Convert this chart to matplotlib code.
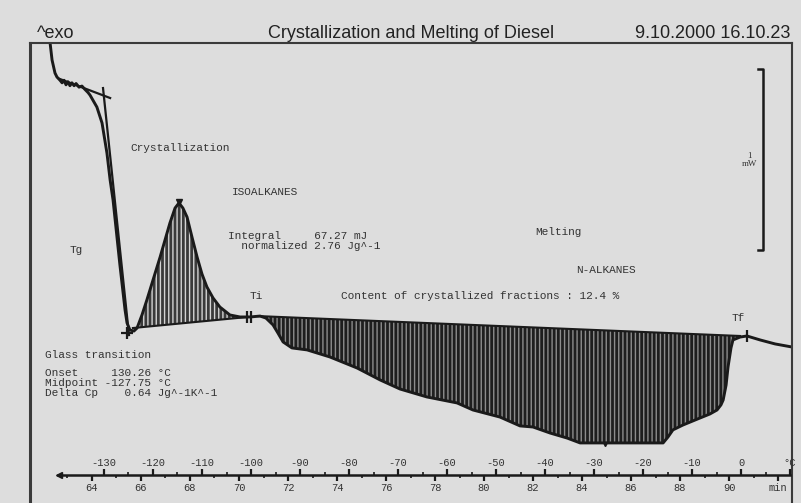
import numpy as np
import matplotlib
matplotlib.use("Agg")
from matplotlib import pyplot as plt

# DSC curve: time (min) vs heat flow (mW, relative)
time_min = [62.29, 62.37, 62.49, 62.57, 62.69, 62.78, 62.86, 62.94, 63.02, 63.10,
            63.18, 63.27, 63.35, 63.47, 63.59, 63.71, 63.84, 63.92, 64.20, 64.41,
            64.61, 64.74, 64.86, 65.14, 65.35, 65.43, 65.55, 65.71, 65.84, 66.04,
            66.24, 66.49, 66.78, 66.98, 67.18, 67.39, 67.55, 67.71, 67.88, 68.08,
            68.29, 68.49, 68.69, 68.94, 69.22, 69.63, 70.04, 70.45, 70.86, 71.10,
            71.39, 71.59, 71.80, 72.16, 72.78, 73.71, 74.82, 75.76, 76.57, 77.67,
            78.90, 79.55, 80.65, 81.47, 82.00, 82.69, 83.39, 83.92, 84.73, 85.96,
            87.31, 87.51, 87.71, 88.12, 88.82, 89.22, 89.51, 89.67, 89.76, 89.88,
            89.96, 90.08, 90.16, 90.45, 90.73, 91.27, 91.88, 92.57]
heat_flow_mw = [1.586, 1.492, 1.420, 1.398, 1.381, 1.366, 1.380, 1.355, 1.372, 1.350,
                1.366, 1.350, 1.362, 1.342, 1.348, 1.330, 1.312, 1.298, 1.232, 1.144,
                0.978, 0.829, 0.718, 0.359, 0.110, 0.039, 0.000, -0.006, 0.011, 0.083,
                0.166, 0.276, 0.403, 0.497, 0.591, 0.674, 0.702, 0.674, 0.624, 0.514,
                0.403, 0.309, 0.238, 0.177, 0.127, 0.083, 0.072, 0.072, 0.077, 0.066,
                0.028, -0.017, -0.066, -0.099, -0.110, -0.149, -0.210, -0.276, -0.326, -0.370,
                -0.403, -0.442, -0.481, -0.530, -0.536, -0.569, -0.597, -0.624, -0.624, -0.624,
                -0.624, -0.591, -0.552, -0.525, -0.486, -0.464, -0.442, -0.414, -0.387, -0.304,
                -0.204, -0.099, -0.055, -0.039, -0.033, -0.055, -0.077, -0.094]

# integration baselines (start / end)
cryst_base_t = [65.67, 70.37]
cryst_base_hf = [0.011, 0.072]
melt_base_t = [70.78, 90.45]
melt_base_hf = [0.077, -0.033]

# glass transition tangents
tan1_t = [62.69, 64.74]
tan1_hf = [1.387, 1.282]
tan2_t = [64.45, 65.51]
tan2_hf = [1.337, -0.028]

# axis ticks
min_ticks = [64, 66, 68, 70, 72, 74, 76, 78, 80, 82, 84, 86, 88, 90, 92]
min_labels = ["64", "66", "68", "70", "72", "74", "76", "78", "80", "82",
              "84", "86", "88", "90", "min"]
temp_ticks = [-130, -120, -110, -100, -90, -80, -70, -60, -50, -40, -30, -20, -10, 0, 10]
temp_labels = ["-130", "-120", "-110", "-100", "-90", "-80", "-70", "-60", "-50",
               "-40", "-30", "-20", "-10", "0", "°C"]

t0, T0, rate = 64.49, -130.0, 5.0   # 5 K/min


def t2T(t):
    return T0 + (np.asarray(t) - t0) * rate


def T2t(T):
    return t0 + (np.asarray(T) - T0) / rate


bg = "#dddddd"
ink = "#1a1a1a"
mono = dict(family="Liberation Mono", size=8, color="#333333")
xlim = (61.47, 92.57)

plt.rcParams["hatch.linewidth"] = 1.0
fig = plt.figure(figsize=(8.01, 5.03), dpi=100, facecolor=bg)

W, H = 801, 503
ax = fig.add_axes([30 / W, 0, 762 / W, 460 / H])
ax.set_facecolor(bg)
ax.set_xlim(*xlim)
ax.set_ylim(-0.956, 1.586)
ax.set_xticks([])
ax.set_yticks([])
for s in ["left", "top", "right"]:
    ax.spines[s].set_color("#3a3a3a")
    ax.spines[s].set_linewidth(1.5)
ax.spines["left"].set_linewidth(2.2)
ax.spines["bottom"].set_visible(False)

t = np.array(time_min)
hf = np.array(heat_flow_mw)

# hatched areas
m = (t >= cryst_base_t[0]) & (t <= cryst_base_t[1])
ax.fill_between(t[m], hf[m], np.interp(t[m], cryst_base_t, cryst_base_hf),
                facecolor="#3a3a3a", edgecolor="#d4d4d4", hatch="||||", linewidth=0)
m = (t >= melt_base_t[0]) & (t <= melt_base_t[1])
ax.fill_between(t[m], hf[m], np.interp(t[m], melt_base_t, melt_base_hf),
                facecolor="#1e1e1e", edgecolor="#8c8c8c", hatch="||||", linewidth=0)

ax.plot(t, hf, color=ink, lw=2.1, solid_joinstyle="round")
ax.plot(cryst_base_t, cryst_base_hf, color=ink, lw=1.5)
ax.plot(melt_base_t, melt_base_hf, color=ink, lw=1.5)
ax.plot(tan1_t, tan1_hf, color=ink, lw=1.6)
ax.plot(tan2_t, tan2_hf, color=ink, lw=1.6)

# markers
ax.plot([65.43], [-0.017], marker="+", ms=9, mew=1.6, color=ink)
ax.plot([70.31, 70.51], [0.072, 0.072], ls="none", marker="|", ms=8, mew=1.6, color=ink)
ax.plot([90.73], [-0.033], marker="|", ms=8, mew=1.6, color=ink)
ax.plot([67.55], [0.705], marker="v", ms=4, color=ink)
ax.plot([84.95], [-0.630], marker="v", ms=3, color=ink)

# 1 mW scale bar
bar_t, bar_lo, bar_hi = 91.39, 0.44, 1.44
ax.plot([bar_t - 0.2, bar_t, bar_t, bar_t - 0.2], [bar_hi, bar_hi, bar_lo, bar_lo],
        color=ink, lw=1.8)
ax.text(bar_t - 0.55, (bar_hi + bar_lo) / 2, "1\nmW", ha="center", va="center",
        multialignment="center", family="Liberation Serif", size=6.5, color="#333333",
        linespacing=1.0)

# annotations
ax.text(65.55, 1.006, "Crystallization", va="center", **mono)
ax.text(69.71, 0.762, "ISOALKANES", va="center", **mono)
ax.text(63.10, 0.442, "Tg", va="center", **mono)
ax.text(69.55, 0.49, "Integral     67.27 mJ\n  normalized 2.76 Jg^-1", va="center",
        linespacing=1.0, **mono)
ax.text(70.45, 0.188, "Ti", va="center", **mono)
ax.text(74.16, 0.188, "Content of crystallized fractions : 12.4 %", va="center", **mono)
ax.text(82.08, 0.541, "Melting", va="center", **mono)
ax.text(83.76, 0.331, "N-ALKANES", va="center", **mono)
ax.text(90.12, 0.066, "Tf", va="center", **mono)
ax.text(62.08, -0.138, "Glass transition", va="center", **mono)
ax.text(62.08, -0.292, "Onset     130.26 °C\nMidpoint -127.75 °C\nDelta Cp    0.64 Jg^-1K^-1",
        va="center", linespacing=1.0, **mono)

# time / temperature scale drawn inside the frame
ax2 = fig.add_axes([30 / W, 28 / H, 762 / W, 0.0001])
ax2.patch.set_visible(False)
ax2.set_xlim(*xlim)
ax2.set_yticks([])
for s in ["left", "top", "right"]:
    ax2.spines[s].set_visible(False)
ax2.spines["bottom"].set_bounds(62.61, 92.49)
ax2.spines["bottom"].set_linewidth(1.8)
ax2.spines["bottom"].set_color(ink)
ax2.set_xticks(min_ticks, min_labels)
ax2.set_xticks(np.arange(63, 93, 2), minor=True)
ax2.tick_params(axis="x", which="major", direction="out", length=4, width=1.6,
                pad=2, labelsize=7.5, labelcolor="#333333", color=ink)
ax2.tick_params(axis="x", which="minor", direction="out", length=2, width=1.2, color=ink)
for lab in ax2.get_xticklabels():
    lab.set_family("Liberation Mono")
ax2.plot([62.65], [0], marker="<", ms=4, color=ink, clip_on=False)

sec = ax2.secondary_xaxis("top", functions=(t2T, T2t))
sec.spines["top"].set_visible(False)
sec.set_xticks(temp_ticks, temp_labels)
sec.set_xticks(np.arange(-125, 10, 10), minor=True)
sec.tick_params(axis="x", which="major", direction="out", length=4, width=1.6,
                pad=1, labelsize=7.5, labelcolor="#333333", color=ink)
sec.tick_params(axis="x", which="minor", direction="out", length=2, width=1.2, color=ink)
for lab in sec.get_xticklabels():
    lab.set_family("Liberation Mono")

# header line
hdr = dict(family="Liberation Sans", size=13, color="#222222", va="baseline")
fig.text(37 / W, 1 - 38 / H, "^exo", ha="left", **hdr)
fig.text(411 / W, 1 - 38 / H, "Crystallization and Melting of Diesel", ha="center", **hdr)
fig.text(790 / W, 1 - 38 / H, "9.10.2000 16.10.23", ha="right", **hdr)

fig.savefig("out.png", dpi=100, facecolor=bg)
